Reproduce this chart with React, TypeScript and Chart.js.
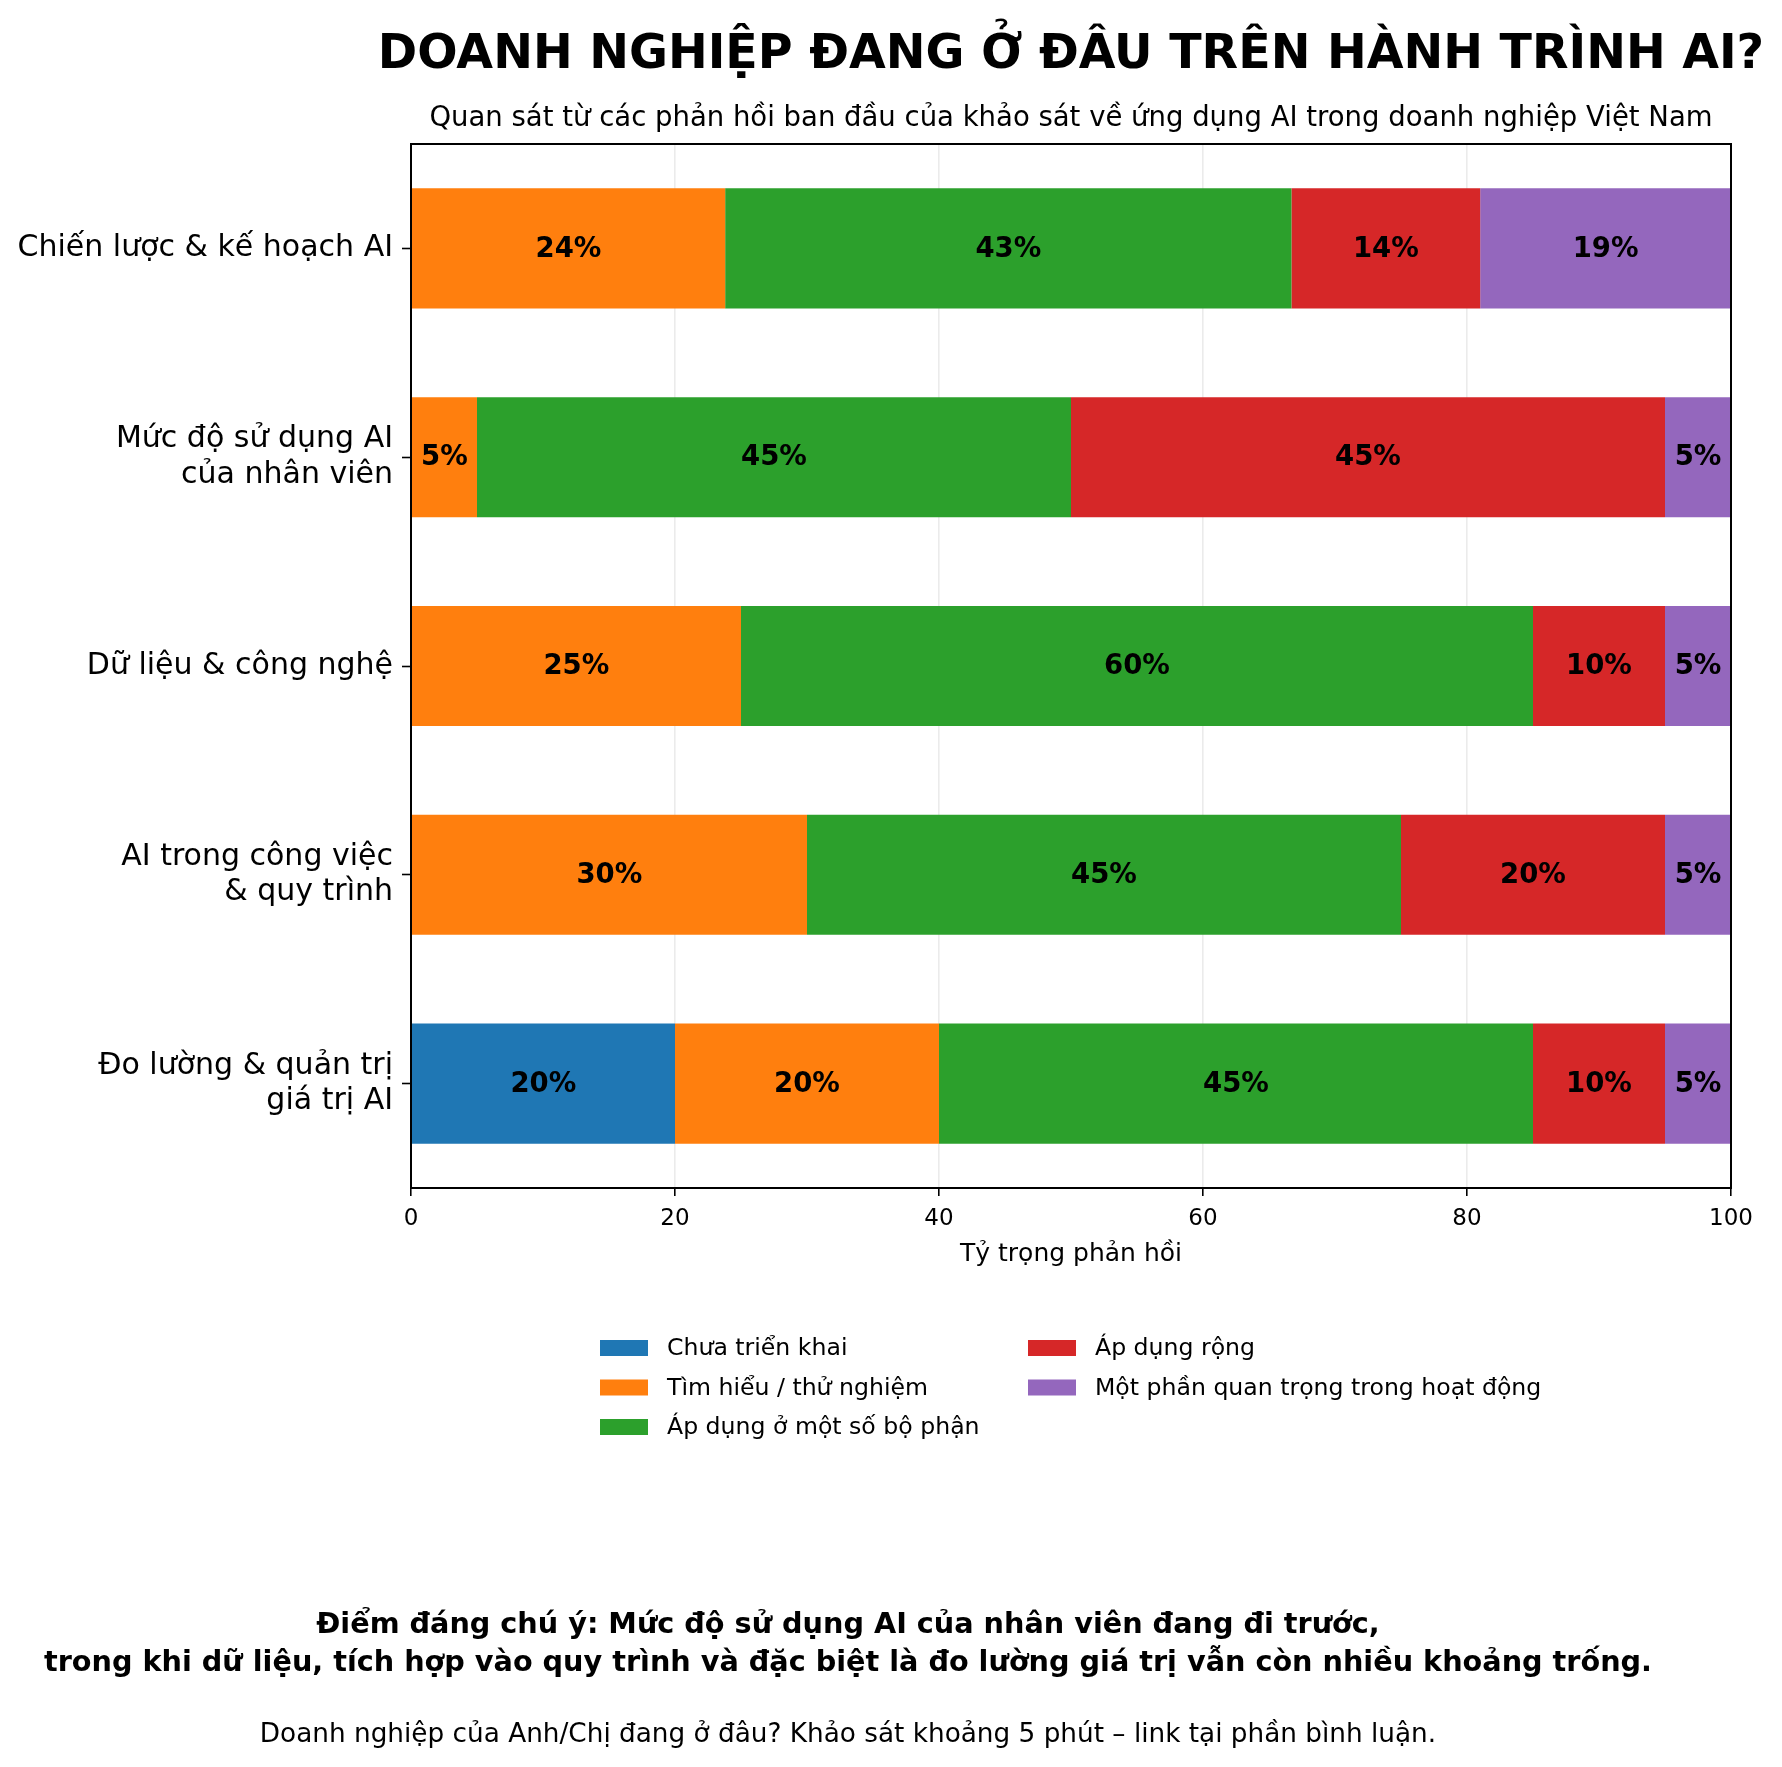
import React, { useEffect, useRef } from "react";
import { Chart, registerables } from "chart.js";

Chart.register(...registerables);

const FONT = "'DejaVu Sans', sans-serif";

// categories (top to bottom)
const categories: (string | string[])[] = [
  "Chiến lược & kế hoạch AI",
  ["Mức độ sử dụng AI", "của nhân viên"],
  "Dữ liệu & công nghệ",
  ["AI trong công việc", "& quy trình"],
  ["Đo lường & quản trị", "giá trị AI"],
];

// series values (% of responses)
const chuaTrienKhai = [0, 0, 0, 0, 20];
const timHieu = [23.8, 5, 25, 30, 20];
const apDungMotSo = [42.9, 45, 60, 45, 45];
const apDungRong = [14.3, 45, 10, 20, 10];
const motPhanQuanTrong = [19.0, 5, 5, 5, 5];

const seriesNames = [
  "Chưa triển khai",
  "Tìm hiểu / thử nghiệm",
  "Áp dụng ở một số bộ phận",
  "Áp dụng rộng",
  "Một phần quan trọng trong hoạt động",
];
const seriesValues = [chuaTrienKhai, timHieu, apDungMotSo, apDungRong, motPhanQuanTrong];
const seriesColors = ["#1f77b4", "#ff7f0e", "#2ca02c", "#d62728", "#9467bd"];

const xTicks = [0, 20, 40, 60, 80, 100];

const title = "DOANH NGHIỆP ĐANG Ở ĐÂU TRÊN HÀNH TRÌNH AI?";
const subtitle = "Quan sát từ các phản hồi ban đầu của khảo sát về ứng dụng AI trong doanh nghiệp Việt Nam";
const xTitle = "Tỷ trọng phản hồi";
const noteLines = [
  "Điểm đáng chú ý: Mức độ sử dụng AI của nhân viên đang đi trước,",
  "trong khi dữ liệu, tích hợp vào quy trình và đặc biệt là đo lường giá trị vẫn còn nhiều khoảng trống.",
];
const callToAction = "Doanh nghiệp của Anh/Chị đang ở đâu? Khảo sát khoảng 5 phút – link tại phần bình luận.";

const W = 1782;
const H = 1767;

const decorPlugin = {
  id: "decor",
  afterDatasetsDraw(chart: any) {
    const ctx = chart.ctx;
    ctx.save();
    ctx.fillStyle = "#000";
    ctx.font = `bold 27.5px ${FONT}`;
    ctx.textAlign = "center";
    ctx.textBaseline = "middle";
    chart.data.datasets.forEach((ds: any, di: number) => {
      const meta = chart.getDatasetMeta(di);
      meta.data.forEach((bar: any, i: number) => {
        const v = ds.data[i];
        if (!v || v <= 0) return;
        const { x, y, base } = bar.getProps(["x", "y", "base"], true);
        ctx.fillText(`${Math.round(v)}%`, (x + base) / 2, y + 1);
      });
    });
    ctx.restore();
  },
  afterDraw(chart: any) {
    const ctx = chart.ctx;
    const a = chart.chartArea;
    ctx.save();
    // frame
    ctx.strokeStyle = "#000";
    ctx.lineWidth = 2;
    ctx.strokeRect(a.left, a.top, a.right - a.left, a.bottom - a.top);

    // title + subtitle
    const cx = (a.left + a.right) / 2;
    ctx.fillStyle = "#000";
    ctx.textAlign = "center";
    ctx.textBaseline = "alphabetic";
    ctx.font = `bold 47.5px ${FONT}`;
    ctx.fillText(title, cx, 68);
    ctx.font = `27.5px ${FONT}`;
    ctx.fillText(subtitle, cx, 126);

    // legend (2 columns, column-major)
    const ds = chart.data.datasets;
    const colX = [600, 1028];
    const rowY = [1348, 1387.5, 1427];
    ctx.font = `23.6px ${FONT}`;
    ctx.textAlign = "left";
    ctx.textBaseline = "middle";
    ds.forEach((d: any, i: number) => {
      const col = Math.floor(i / 3);
      const row = i % 3;
      const x = colX[col];
      const y = rowY[row];
      ctx.fillStyle = d.backgroundColor;
      ctx.fillRect(x, y - 8, 48, 16);
      ctx.fillStyle = "#000";
      ctx.fillText(d.label, x + 67, y + 1);
    });

    // footer notes
    const fx = 848;
    ctx.textAlign = "center";
    ctx.textBaseline = "alphabetic";
    ctx.font = `bold 28.7px ${FONT}`;
    ctx.fillText(noteLines[0], fx, 1633);
    ctx.fillText(noteLines[1], fx, 1671);
    ctx.font = `26.3px ${FONT}`;
    ctx.fillText(callToAction, fx, 1742);
    ctx.restore();
  },
};

const App: React.FC = () => {
  const canvasRef = useRef<HTMLCanvasElement>(null);

  useEffect(() => {
    if (!canvasRef.current) return;
    const chart = new Chart(canvasRef.current, {
      type: "bar",
      data: {
        labels: categories,
        datasets: seriesNames.map((name, i) => ({
          label: name,
          data: seriesValues[i],
          backgroundColor: seriesColors[i],
          borderWidth: 0,
          barPercentage: 0.575,
          categoryPercentage: 1,
        })),
      },
      options: {
        indexAxis: "y",
        responsive: false,
        animation: false,
        devicePixelRatio: 1,
        layout: { padding: { top: 144, right: 51, bottom: H - 1188 - 81, left: 0 } },
        plugins: {
          legend: { display: false },
          tooltip: { enabled: false },
          title: { display: false },
        },
        scales: {
          x: {
            stacked: true,
            min: 0,
            max: 100,
            afterBuildTicks: (scale: any) => {
              scale.ticks = xTicks.map((v) => ({ value: v }));
            },
            afterFit: (scale: any) => {
              scale.height = 81;
            },
            ticks: {
              color: "#000",
              font: { family: FONT, size: 23 },
              padding: 9,
              maxRotation: 0,
            },
            grid: {
              color: "#ebebeb",
              lineWidth: 1.6,
              tickColor: "#000",
              tickLength: 8,
              tickWidth: 1.6,
            },
            border: { display: true, color: "#000", width: 2 },
            title: {
              display: true,
              text: xTitle,
              color: "#000",
              font: { family: FONT, size: 25 },
              padding: 0,
            },
          },
          y: {
            stacked: true,
            afterFit: (scale: any) => {
              scale.width = 411;
            },
            ticks: {
              color: "#000",
              font: { family: FONT, size: 30, lineHeight: 1.17 },
              padding: 9,
            },
            grid: {
              offset: false,
              drawOnChartArea: false,
              drawTicks: true,
              tickColor: "#000",
              tickLength: 9,
              tickWidth: 1.6,
            },
            border: { display: true, color: "#000", width: 2 },
          },
        },
      },
      plugins: [decorPlugin],
    });
    return () => chart.destroy();
  }, []);

  return (
    <div style={{ position: "absolute", left: 0, top: 0, width: W, height: H, background: "#fff" }}>
      <canvas ref={canvasRef} width={W} height={H} style={{ width: W, height: H, display: "block" }} />
    </div>
  );
};

export default App;
